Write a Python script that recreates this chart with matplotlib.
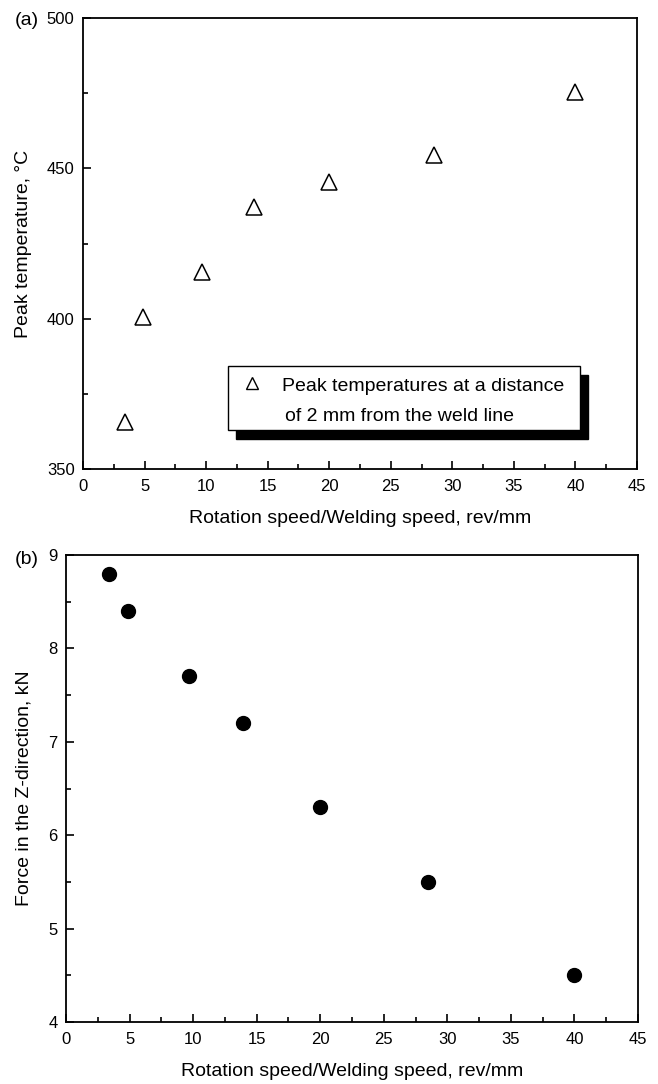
import matplotlib
matplotlib.use("Agg")
import matplotlib.pyplot as plt
from matplotlib.patches import Rectangle
from matplotlib.ticker import MultipleLocator

plt.rcParams["font.family"] = ["Liberation Sans", "DejaVu Sans"]

# data
ratio = [3.4, 4.9, 9.7, 13.9, 20.0, 28.5, 40.0]
peak_temp = [365.5, 400.5, 415.5, 437.0, 445.3, 454.5, 475.5]
force_z = [8.8, 8.4, 7.7, 7.2, 6.3, 5.5, 4.5]

xlabel = "Rotation speed/Welding speed, rev/mm"

fig = plt.figure(figsize=(6.58, 10.84), dpi=100)
ax1 = fig.add_axes([0.1261, 0.5673, 0.8419, 0.4161])
ax2 = fig.add_axes([0.1003, 0.0572, 0.8693, 0.4308])


def style(ax, ymaj, ymin):
    ax.set_xlim(0, 45)
    ax.xaxis.set_major_locator(MultipleLocator(5))
    ax.xaxis.set_minor_locator(MultipleLocator(2.5))
    ax.yaxis.set_major_locator(MultipleLocator(ymaj))
    ax.yaxis.set_minor_locator(MultipleLocator(ymin))
    ax.tick_params(which="both", direction="in", top=False, right=False,
                   labelsize=12, width=1.2)
    ax.tick_params(axis="x", pad=7)
    ax.tick_params(axis="y", pad=6)
    ax.tick_params(which="major", length=6)
    ax.tick_params(which="minor", length=3.5)
    for s in ax.spines.values():
        s.set_linewidth(1.3)
    ax.set_xlabel(xlabel, fontsize=14, labelpad=12)


# (a) peak temperature
ax1.plot(ratio, peak_temp, linestyle="none", marker="^", ms=11,
         mfc="white", mec="black", mew=1.1)
ax1.set_ylim(350, 500)
style(ax1, 50, 25)
ax1.set_ylabel("Peak temperature, °C", fontsize=14)
ax1.yaxis.set_label_coords(-0.092, 0.5)
fig.text(0.0228, 0.9815, "(a)", fontsize=14, ha="left", va="center")

# hand-made legend box with solid shadow
bx, by, bw, bh = 0.262, 0.0865, 0.635, 0.1415
ax1.add_patch(Rectangle((bx + 0.0145, by - 0.02), bw, bh, transform=ax1.transAxes,
                        facecolor="black", edgecolor="black", zorder=3))
ax1.add_patch(Rectangle((bx, by), bw, bh, transform=ax1.transAxes,
                        facecolor="white", edgecolor="black", lw=1.0, zorder=4))
ax1.plot([0.305], [0.191], transform=ax1.transAxes, marker="^", ms=9,
         mfc="white", mec="black", mew=1.0, linestyle="none", zorder=5)
ax1.text(0.359, 0.182, "Peak temperatures at a distance", transform=ax1.transAxes,
         fontsize=14, va="center", ha="left", zorder=5)
ax1.text(0.3646, 0.1175, "of 2 mm from the weld line", transform=ax1.transAxes,
         fontsize=14, va="center", ha="left", zorder=5)

# (b) force in z direction
ax2.plot(ratio, force_z, linestyle="none", marker="o", ms=10,
         mfc="black", mec="black")
ax2.set_ylim(4, 9)
style(ax2, 1, 0.5)
ax2.set_ylabel("Force in the Z-direction, kN", fontsize=14)
ax2.yaxis.set_label_coords(-0.0594, 0.5)
fig.text(0.0228, 0.4834, "(b)", fontsize=14, ha="left", va="center")

fig.savefig("out.png", dpi=100)
